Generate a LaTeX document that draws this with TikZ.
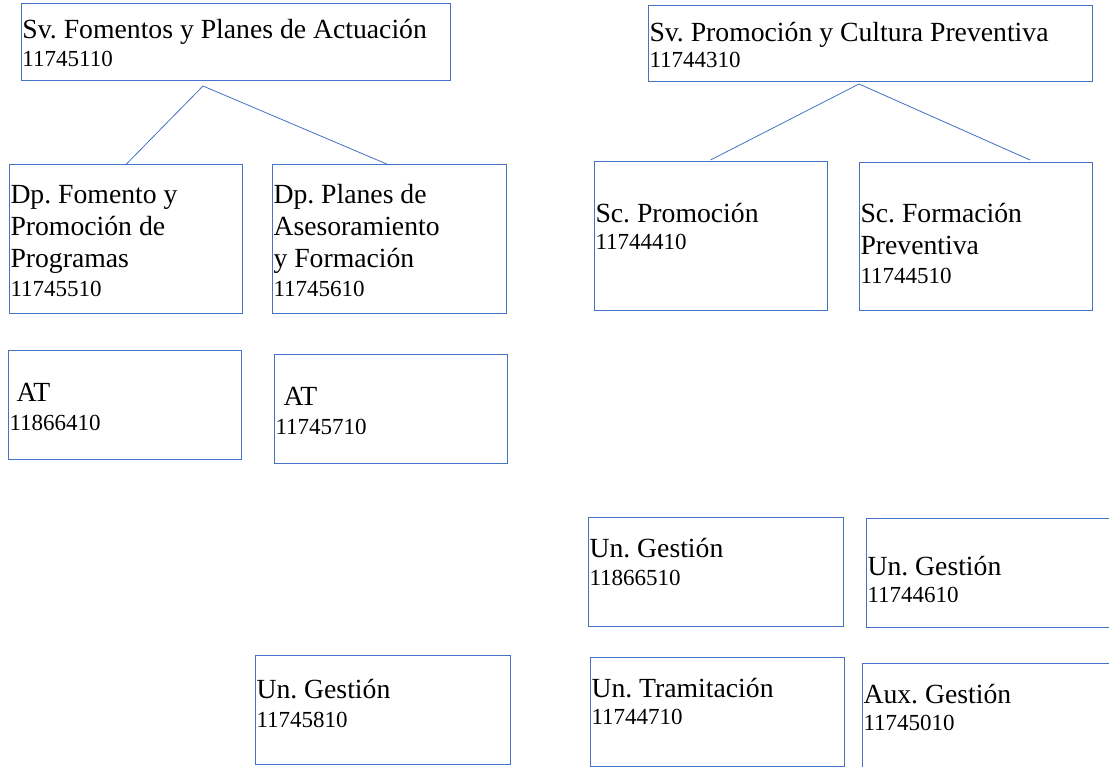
\documentclass[tikz,border=0pt]{standalone}
\usepackage{fontspec}
\setmainfont{Liberation Serif}
\frenchspacing
\definecolor{borde}{RGB}{68,114,196}

\begin{document}
\begin{tikzpicture}[x=1pt, y=-1pt, line width=1pt,
        caja/.style   = {draw=borde, rectangle, anchor=north west, inner sep=0pt, outer sep=0pt},
        titulo/.style = {anchor=base west, inner sep=0pt, align=left, font=\fontsize{27.7}{32}\selectfont},
        numero/.style = {anchor=base west, inner sep=0pt, font=\fontsize{23}{27}\selectfont},
        rama/.style   = {draw=borde, line width=0.8pt}]
            \useasboundingbox (0, 0) rectangle (1109, 767);
            \clip (0, 0) rectangle (1109, 767);

            % draw boxes of the left service
            \node[caja, minimum width=429pt, minimum height=77pt]  (svfom)  at ( 21,   4) {};
            \node[caja, minimum width=233pt, minimum height=149pt] (dpfom)  at (  9, 165) {};
            \node[caja, minimum width=234pt, minimum height=149pt] (dppla)  at (272, 165) {};
            \node[caja, minimum width=233pt, minimum height=108pt] (atfom)  at (  8, 351) {};
            \node[caja, minimum width=233pt, minimum height=108pt] (atpla)  at (274, 355) {};
            \node[caja, minimum width=255pt, minimum height=109pt] (ungpla) at (255, 655) {};

            % draw boxes of the right service
            \node[caja, minimum width=444pt, minimum height=76pt]  (svprom) at (648,   6) {};
            \node[caja, minimum width=233pt, minimum height=149pt] (scprom) at (594, 162) {};
            \node[caja, minimum width=233pt, minimum height=148pt] (scform) at (859, 163) {};
            \node[caja, minimum width=255pt, minimum height=109pt] (ungprom) at (588, 517) {};
            \node[caja, minimum width=260pt, minimum height=109pt] (ungform) at (866, 518) {};
            \node[caja, minimum width=254pt, minimum height=109pt] (untram) at (590, 657) {};
            \node[caja, minimum width=260pt, minimum height=110pt] (auxges) at (862, 663) {};

            % texts of the boxes (multi-line ones sit on their last line)
            \node[titulo] (svfom-t)   at ( 22,  39) {Sv. Fomentos y Planes de Actuación};
            \node[numero] (svfom-n)   at ( 22,  67) {11745110};
            \node[titulo] (dpfom-t)   at ( 10, 268) {Dp. Fomento y\\Promoción de\\Programas};
            \node[numero] (dpfom-n)   at ( 10, 297) {11745510};
            \node[titulo] (dppla-t)   at (273, 268) {Dp. Planes de\\Asesoramiento\\y Formación};
            \node[numero] (dppla-n)   at (273, 297) {11745610};
            \node[titulo] (atfom-t)   at ( 16, 402) {AT};
            \node[numero] (atfom-n)   at (  9, 430) {11866410};
            \node[titulo] (atpla-t)   at (283, 406) {AT};
            \node[numero] (atpla-n)   at (275, 434) {11745710};
            \node[titulo] (ungpla-t)  at (256, 698) {Un. Gestión};
            \node[numero] (ungpla-n)  at (256, 727) {11745810};

            \node[titulo] (svprom-t)  at (649,  42) {Sv. Promoción y Cultura Preventiva};
            \node[numero] (svprom-n)  at (649,  68) {11744310};
            \node[titulo] (scprom-t)  at (595, 223) {Sc. Promoción};
            \node[numero] (scprom-n)  at (595, 250) {11744410};
            \node[titulo] (scform-t)  at (860, 255) {Sc. Formación\\Preventiva};
            \node[numero] (scform-n)  at (860, 284) {11744510};
            \node[titulo] (ungprom-t) at (589, 557) {Un. Gestión};
            \node[numero] (ungprom-n) at (589, 585) {11866510};
            \node[titulo] (ungform-t) at (867, 575) {Un. Gestión};
            \node[numero] (ungform-n) at (867, 602) {11744610};
            \node[titulo] (untram-t)  at (591, 697) {Un. Tramitación};
            \node[numero] (untram-n)  at (591, 724) {11744710};
            \node[titulo] (auxges-t)  at (863, 703) {Aux. Gestión};
            \node[numero] (auxges-n)  at (863, 730) {11745010};

            % draw branches
            \coordinate (svfom-pie)  at (203,  86);
            \coordinate (svprom-pie) at (859,  84);
            \coordinate (scform-cab) at (1030, 160);
            \draw[rama] (svfom-pie)  -- (dpfom.north);
            \draw[rama] (svfom-pie)  -- (dppla.north);
            \draw[rama] (svprom-pie) -- ([yshift=2pt]scprom.north);
            \draw[rama] (svprom-pie) -- (scform-cab);
        \end{tikzpicture}
\end{document}
